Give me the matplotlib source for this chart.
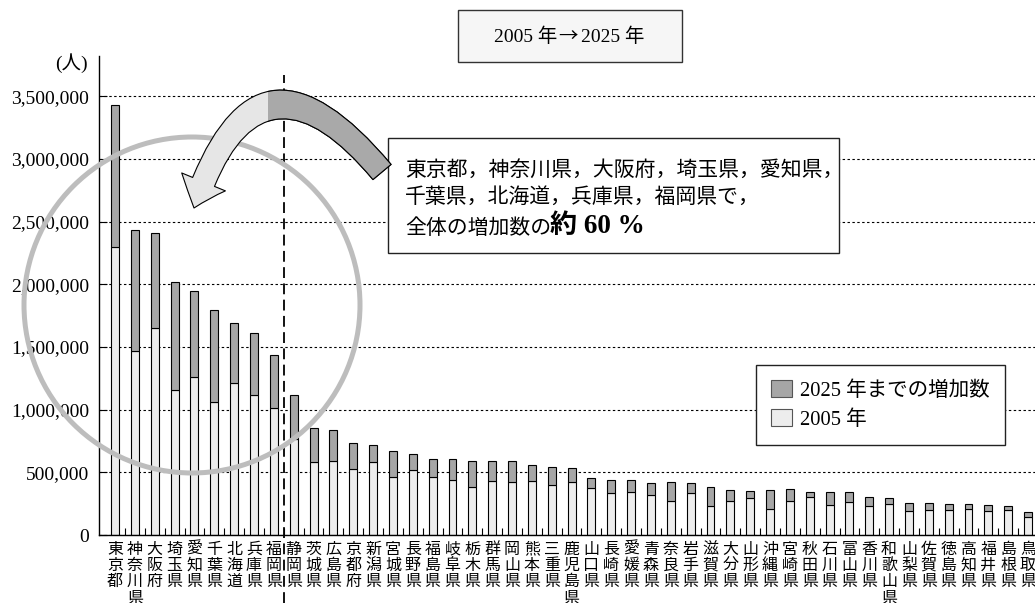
import matplotlib
matplotlib.use("Agg")
import matplotlib.pyplot as plt
from matplotlib.patches import Rectangle, Ellipse, FancyArrowPatch, Patch
from matplotlib.transforms import Bbox, TransformedBbox

# ------------------------------------------------------
# Data (elderly population, persons)
# ------------------------------------------------------
prefectures = ["東京都", "神奈川県", "大阪府", "埼玉県", "愛知県", "千葉県", "北海道",
               "兵庫県", "福岡県", "静岡県", "茨城県", "広島県", "京都府", "新潟県",
               "宮城県", "長野県", "福島県", "岐阜県", "栃木県", "群馬県", "岡山県",
               "熊本県", "三重県", "鹿児島県", "山口県", "長崎県", "愛媛県", "青森県",
               "奈良県", "岩手県", "滋賀県", "大分県", "山形県", "沖縄県", "宮崎県",
               "秋田県", "石川県", "富山県", "香川県", "和歌山県", "山梨県", "佐賀県",
               "徳島県", "高知県", "福井県", "島根県", "鳥取県"]

pop_2005 = [2298000, 1471000, 1647000, 1154000, 1259000, 1058000, 1209000,
            1113000, 1011000, 763000, 582000, 590000, 524000, 580000,
            460000, 516000, 465000, 441000, 386000, 428000, 423000,
            428000, 397000, 424000, 378000, 338000, 343000, 319000,
            270000, 332000, 235000, 273000, 292000, 208000, 275000,
            305000, 242000, 264000, 228000, 245000, 192000, 203000,
            198000, 206000, 192000, 200000, 146000]

pop_2025 = [3427000, 2435000, 2405000, 2014000, 1942000, 1796000, 1689000,
            1612000, 1438000, 1115000, 856000, 838000, 737000, 715000,
            668000, 646000, 606000, 606000, 588000, 588000, 588000,
            556000, 543000, 535000, 457000, 438000, 438000, 416000,
            422000, 416000, 381000, 357000, 351000, 359000, 368000,
            346000, 346000, 341000, 305000, 299000, 255000, 255000,
            245000, 245000, 239000, 228000, 184000]

increase = [b - a for a, b in zip(pop_2005, pop_2025)]
yticks = [0, 500000, 1000000, 1500000, 2000000, 2500000, 3000000, 3500000]

JP = "Noto Sans CJK JP"
MIX = ["Liberation Serif", "Noto Sans CJK JP"]
plt.rcParams["font.family"] = MIX

W, H = 1035, 603


def fx(px):
    return px / W


def fy(py):
    return 1 - py / H


fig = plt.figure(figsize=(10.35, 6.03), dpi=100)
ax = fig.add_axes([fx(99), fy(535), 1 - fx(99), (535 - 56) / H])

x = list(range(len(prefectures)))
ax.bar(x, pop_2005, width=0.4, color="#ededed", edgecolor="black", linewidth=0.8, zorder=2)
ax.bar(x, increase, width=0.4, bottom=pop_2005, color="#a6a6a6", edgecolor="black",
       linewidth=0.8, zorder=2)

ax.set_xlim(-0.81, 46.35)
ax.set_ylim(0, 3820000)
ax.set_yticks(yticks, [f"{v:,}" for v in yticks])
ax.tick_params(axis="y", direction="in", length=6, width=0.8, pad=7, labelsize=14)
ax.set_xticks(x, ["\n".join(p) for p in prefectures], family=JP, fontsize=11.5)
ax.set_xticks([i + 0.5 for i in x[:-1]], minor=True)
ax.tick_params(axis="x", which="major", length=0, pad=4)
ax.tick_params(axis="x", which="minor", direction="in", length=5, width=0.8)
for lab in ax.get_xticklabels():
    lab.set_linespacing(0.95)
    lab.set_verticalalignment("top")

ax.yaxis.grid(True, linestyle=(0, (2.2, 2.2)), linewidth=0.8, color="black")
ax.set_axisbelow(True)
for s in ["top", "right"]:
    ax.spines[s].set_visible(False)
for s in ["left", "bottom"]:
    ax.spines[s].set_linewidth(1.0)

# vertical dashed separator between 福岡県 and 静岡県
ax.axvline(8.5, ymin=-0.142, ymax=0.96, color="black", linewidth=1.3,
           linestyle=(0, (6, 3)), clip_on=False, zorder=3)

# unit label
fig.text(fx(71), fy(63), "(人)", ha="center", va="center", fontsize=14)

# title box
fig.patches.append(Rectangle((fx(458), fy(62)), fx(682) - fx(458), (62 - 10) / H,
                             transform=fig.transFigure, facecolor="#f6f6f6",
                             edgecolor="#333333", linewidth=1.0))
fig.text(fx(494), fy(37), "2005 年", ha="left", va="center", fontsize=14)
fig.text(fx(568), fy(36), "→", ha="center", va="center", fontsize=14, family=JP)
fig.text(fx(581), fy(37), "2025 年", ha="left", va="center", fontsize=14)

# annotation box
fig.patches.append(Rectangle((fx(388), fy(253)), fx(839) - fx(388), (253 - 138) / H,
                             transform=fig.transFigure, facecolor="white",
                             edgecolor="#222222", linewidth=1.0, zorder=4))
fig.text(fx(405), fy(170), "東京都，神奈川県，大阪府，埼玉県，愛知県，", family=JP,
         fontsize=15, va="center", ha="left", zorder=5)
fig.text(fx(405), fy(197), "千葉県，北海道，兵庫県，福岡県で，", family=JP,
         fontsize=15, va="center", ha="left", zorder=5)
fig.text(fx(405), fy(228), "全体の増加数の", family=JP,
         fontsize=15, va="center", ha="left", zorder=5)
fig.text(fx(550), fy(226), "約 60 %", fontsize=19.5, fontweight="bold",
         va="center", ha="left", zorder=5)

# big ring around the top nine prefectures
fig.patches.append(Ellipse((fx(192), fy(305)), 336 / W, 336 / H, transform=fig.transFigure,
                           facecolor="none", edgecolor="#bdbdbd", linewidth=3.6, zorder=3))

# curved arrow (dark on the right, light on the left)
style = "simple,head_length=20,head_width=34,tail_width=17"
for fc, clip_left in [("#e6e6e6", None), ("#a9a9a9", 268)]:
    arr = FancyArrowPatch((fx(382), fy(172)), (fx(194), fy(208)), transform=fig.transFigure,
                          connectionstyle="arc3,rad=0.9", arrowstyle=style,
                          shrinkA=0, shrinkB=0, facecolor=fc, edgecolor="black",
                          linewidth=0.8, zorder=4)
    if clip_left is not None:
        arr.set_clip_box(TransformedBbox(Bbox([[fx(clip_left), 0], [1, 1]]), fig.transFigure))
    fig.patches.append(arr)

# legend
handles = [Patch(facecolor="#a6a6a6", edgecolor="#555555", linewidth=0.8),
           Patch(facecolor="#ededed", edgecolor="#555555", linewidth=0.8)]
leg = ax.legend(handles, ["2025 年までの増加数", "2005 年"], loc="upper left",
                bbox_to_anchor=((756 - 99) / 936, (535 - 365) / 479), fontsize=14.8,
                frameon=True, fancybox=False, edgecolor="#222222", framealpha=1,
                handlelength=1.0, handleheight=0.9, handletextpad=0.4,
                labelspacing=0.4, borderpad=0.75, borderaxespad=0)
leg.get_frame().set_linewidth(1.0)
leg.set_zorder(5)

fig.savefig("out.png", dpi=100)
